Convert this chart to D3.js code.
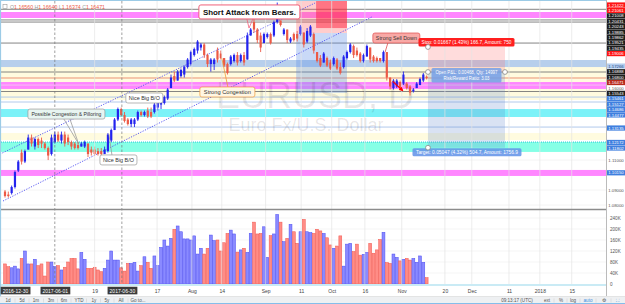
<!doctype html>
<html lang="en">
<head>
<meta charset="utf-8">
<title>EURUSD, D</title>
<style>
  body { margin: 0; background: #fff; }
  svg { display: block; font-family: "Liberation Sans", Arial, sans-serif; }
</style>
</head>
<body>
<svg id="chart" width="625" height="304"></svg>
<script src="https://d3js.org/d3.v7.min.js"></script>
<script>
// daily bars, [open, high, low, close]
var bars = [
  [1.089,1.090,1.085,1.086],[1.087,1.089,1.085,1.086],[1.088,1.093,1.087,1.092],[1.092,1.103,1.091,1.102],
  [1.103,1.110,1.102,1.109],[1.115,1.117,1.107,1.109],[1.109,1.117,1.108,1.116],[1.117,1.127,1.117,1.125],
  [1.125,1.127,1.119,1.121],[1.119,1.125,1.117,1.124],[1.124,1.125,1.118,1.120],[1.123,1.125,1.118,1.121],
  [1.121,1.122,1.117,1.118],[1.118,1.119,1.110,1.113],[1.114,1.127,1.113,1.125],[1.122,1.129,1.121,1.127],
  [1.127,1.129,1.122,1.123],[1.123,1.129,1.121,1.127],[1.127,1.129,1.119,1.121],[1.125,1.127,1.120,1.122],
  [1.122,1.123,1.117,1.119],[1.121,1.122,1.117,1.118],[1.120,1.122,1.117,1.118],[1.119,1.122,1.119,1.121],
  [1.119,1.123,1.118,1.122],[1.121,1.121,1.112,1.114],[1.117,1.119,1.113,1.115],[1.117,1.119,1.113,1.114],
  [1.116,1.118,1.113,1.114],[1.116,1.118,1.113,1.114],[1.114,1.119,1.114,1.117],[1.116,1.128,1.115,1.127],
  [1.123,1.131,1.122,1.130],[1.130,1.138,1.130,1.137],[1.137,1.145,1.136,1.144],[1.144,1.145,1.139,1.140],
  [1.140,1.142,1.135,1.136],[1.137,1.138,1.133,1.134],[1.134,1.138,1.132,1.137],[1.134,1.138,1.132,1.137],
  [1.137,1.143,1.136,1.142],[1.142,1.143,1.139,1.140],[1.140,1.143,1.139,1.142],[1.143,1.145,1.138,1.139],
  [1.142,1.145,1.138,1.139],[1.142,1.148,1.141,1.147],[1.145,1.150,1.143,1.149],[1.147,1.150,1.144,1.149],
  [1.148,1.153,1.147,1.152],[1.151,1.158,1.150,1.157],[1.158,1.167,1.158,1.165],[1.166,1.169,1.162,1.163],
  [1.163,1.170,1.163,1.169],[1.166,1.171,1.165,1.170],[1.167,1.173,1.165,1.172],[1.172,1.178,1.171,1.177],
  [1.174,1.183,1.173,1.182],[1.180,1.185,1.179,1.184],[1.183,1.190,1.181,1.189],[1.185,1.188,1.183,1.187],
  [1.187,1.188,1.178,1.180],[1.180,1.181,1.172,1.174],[1.174,1.178,1.169,1.177],[1.174,1.178,1.170,1.177],
  [1.183,1.185,1.175,1.177],[1.181,1.183,1.177,1.178],[1.178,1.178,1.172,1.173],[1.174,1.175,1.167,1.168],
  [1.174,1.180,1.173,1.179],[1.176,1.181,1.175,1.180],[1.180,1.182,1.173,1.175],[1.176,1.181,1.175,1.180],
  [1.180,1.182,1.173,1.175],[1.177,1.195,1.177,1.193],[1.193,1.198,1.193,1.197],[1.202,1.205,1.195,1.197],
  [1.197,1.198,1.188,1.190],[1.193,1.195,1.182,1.185],[1.188,1.195,1.188,1.194],[1.192,1.195,1.191,1.194],
  [1.194,1.195,1.187,1.188],[1.193,1.203,1.192,1.202],[1.202,1.215,1.201,1.213],[1.203,1.203,1.199,1.200],
  [1.194,1.198,1.193,1.197],[1.197,1.197,1.188,1.190],[1.189,1.192,1.188,1.191],[1.194,1.195,1.189,1.190],
  [1.194,1.196,1.189,1.191],[1.194,1.200,1.193,1.199],[1.195,1.195,1.185,1.187],[1.189,1.198,1.188,1.196],
  [1.193,1.200,1.192,1.199],[1.194,1.195,1.181,1.183],[1.182,1.182,1.175,1.176],[1.178,1.180,1.172,1.173],
  [1.175,1.182,1.175,1.181],[1.178,1.179,1.172,1.173],[1.175,1.177,1.170,1.171],[1.174,1.179,1.173,1.178],
  [1.177,1.178,1.170,1.171],[1.172,1.175,1.167,1.168],[1.172,1.180,1.171,1.179],[1.178,1.183,1.177,1.182],
  [1.182,1.188,1.181,1.187],[1.186,1.187,1.178,1.180],[1.183,1.185,1.179,1.180],[1.181,1.182,1.175,1.176],
  [1.176,1.181,1.175,1.180],[1.179,1.187,1.179,1.186],[1.185,1.185,1.175,1.177],[1.179,1.180,1.175,1.176],
  [1.178,1.179,1.175,1.176],[1.178,1.178,1.175,1.176],[1.176,1.183,1.175,1.182],[1.182,1.182,1.163,1.165],
  [1.165,1.165,1.157,1.159],[1.158,1.164,1.157,1.163],[1.159,1.164,1.158,1.163],[1.162,1.163,1.157,1.158],
  [1.161,1.169,1.160,1.167],[1.161,1.162,1.157,1.158],[1.159,1.160,1.153,1.155],[1.156,1.158,1.155,1.157],
  [1.158,1.162,1.158,1.161],[1.160,1.165,1.160,1.164],[1.163,1.168,1.162,1.167],[1.1656,1.1664,1.16374,1.16471]
]

// volume in thousands
var volumes = [
  73,63,59,65,55,93,120,73,73,90, 67,73,29,80,80,63,67,51,61,80,
  93,93,55,115,90,57,57,61,51,45, 57,87,120,87,87,59,47,75,75,79,
  47,67,99,79,57,102,67,133,160,138, 166,199,211,190,164,164,160,175,109,130,
  109,130,178,158,160,120,150,184,196,182, 116,124,130,115,184,225,182,184,208,97,
  176,182,253,225,154,166,217,190,148,190, 235,190,187,184,199,193,184,168,142,130,
  138,175,65,145,148,118,145,105,108,115, 148,112,124,162,188,78,75,109,97,84,
  90,93,87,93,79,102,79,23
]

var tickLabels = ["2016-12-30","2017-06-01","19","2017-06-30","17","Aug","14","Sep","11","Oct","16","Nov","20","Dec","11","2018","15"]
var tickIndex = [3,15,27,35.2,45.8,56.3,65.3,78.5,89.2,98.4,108.4,119.5,132.5,140.6,151.8,161.1,170.7]
var boxedTicks = ["2016-12-30","2017-06-01","2017-06-30"]
var dashedTicks = ["2017-06-01","2017-06-30"]

var volTicks = [0,40,80,120,160,200,240]

// price scale labels, kind of label for each
var axisLabels = [1.21422,1.21061,1.21008,1.20431,1.20243,1.19885,1.19862,1.19521,1.19435,1.19006,
  1.17266,1.16888,1.16800,1.16471,1.16000,1.15543,1.15461,1.15127,1.14686,1.14477,
  1.13135,1.12172,1.11802,1.11000,1.10150,1.09000,1.08000]
var axisKinds = ["red","red","dark","dark","dark","dark","dark","dark","dark","red",
  "pale","dark","dark","last","plain","dark","blue","blue","blue","blue",
  "blue","blue","blue","plain","blue","plain","plain"]

// drawn levels
var magentaBands = [[1.2087,1.2047],[1.1620,1.1574],[1.1034,1.0994]]
var cyanBands = [[1.1440,1.1387]]
var aquaBands = [[1.1220,1.1154]]
var paleBlueBands = [[1.1767,1.1720]]
var yellowBands = [[1.1720,1.1500],[1.1280,1.1234]]
var greyLevels = [1.2105,1.2034,1.2020,1.1880,1.1687,1.1557]
var blueLevels = [1.1520,1.1487,1.1320]
var dottedLevels = [1.1220]
var lastClose = 1.16471
var priceGrid = [1.16,1.11,1.09,1.08]

var channelUpper = [[-1.5,1.114],[93.4,1.2147]]
var channelLower = [[-0.6,1.0827],[110.5,1.2054]]

// short positions: [startIndex, endIndex, entry, stop, target]
var shortPositions = [[87.7,103,1.1947,1.2167,1.1547],[127.4,150.6,1.1687,1.18537,1.11823]]
var stopHit = [93.7,103,1.1980,1.2167]

var W = 625, H = 304, plotL = 1, plotR = 606
var svg = d3.select("#chart")

var x = d3.scaleLinear().domain([0,181]).range([5, 5 + 3.32*181])
var y = d3.scaleLinear().domain([1.0767,1.2167]).range([210,0])
var yv = d3.scaleLinear().domain([0,240]).range([284,218])

svg.append("rect").attr("width",W).attr("height",H).attr("fill","#fff")

var defs = svg.append("defs")
defs.append("clipPath").attr("id","pclip").append("rect")
  .attr("x",plotL).attr("y",1).attr("width",plotR-plotL).attr("height",208)
defs.append("clipPath").attr("id","vclip").append("rect")
  .attr("x",plotL).attr("y",211).attr("width",plotR-plotL).attr("height",73)
defs.append("marker").attr("id","arr").attr("viewBox","0 0 10 10").attr("refX",8).attr("refY",5)
  .attr("markerWidth",4).attr("markerHeight",4).attr("orient","auto")
  .append("path").attr("d","M0,0L10,5L0,10z").attr("fill","#f00")

var pane = svg.append("g").attr("clip-path","url(#pclip)")
var vpane = svg.append("g").attr("clip-path","url(#vclip)")

function bands(list, color) {
  pane.append("g").selectAll("rect").data(list).join("rect")
    .attr("x",plotL).attr("width",plotR-plotL)
    .attr("y",function(d){ return y(d[0]) }).attr("height",function(d){ return y(d[1]) - y(d[0]) })
    .attr("fill",color)
}
bands(yellowBands,"#fffbdf")
bands(paleBlueBands,"#b7cfec")
bands(magentaBands,"#ff86ff")
bands(cyanBands,"#7cf2f8")
bands(aquaBands,"#86ffe6")

// grid
pane.append("g").selectAll("line").data(priceGrid).join("line")
  .attr("x1",plotL).attr("x2",plotR).attr("y1",function(d){ return y(d) }).attr("y2",function(d){ return y(d) })
  .attr("stroke","#ececec").attr("stroke-width",0.6)
svg.append("g").selectAll("line").data(tickIndex.filter(function(d,k){ return dashedTicks.indexOf(tickLabels[k]) < 0 && k > 0 }))
  .join("line").attr("x1",function(d){ return x(d) }).attr("x2",function(d){ return x(d) })
  .attr("y1",1).attr("y2",284).attr("stroke","#e4e4e4").attr("stroke-width",0.7)
svg.append("g").selectAll("line").data(tickIndex.filter(function(d,k){ return dashedTicks.indexOf(tickLabels[k]) >= 0 }))
  .join("line").attr("x1",function(d){ return x(d) }).attr("x2",function(d){ return x(d) })
  .attr("y1",1).attr("y2",284).attr("stroke","#777").attr("stroke-width",0.7).attr("stroke-dasharray","2.5,2")

function levels(list, color, w, dash) {
  pane.append("g").selectAll("line").data(list).join("line")
    .attr("x1",plotL).attr("x2",plotR).attr("y1",function(d){ return y(d) }).attr("y2",function(d){ return y(d) })
    .attr("stroke",color).attr("stroke-width",w).attr("stroke-dasharray",dash || null)
}
levels(greyLevels,"#777",0.9)
levels(blueLevels,"#a9c4ea",0.9)
levels(dottedLevels,"#27c9d6",1,"1,1")
levels([lastClose],"#e7785c",0.8)

// short position tools
var tools = pane.append("g")
shortPositions.forEach(function(t, k) {
  tools.append("rect").attr("x",x(t[0])).attr("width",x(t[1])-x(t[0]))
    .attr("y",y(t[3])).attr("height",y(t[2])-y(t[3]))
    .attr("fill", k ? "rgba(255,110,110,0.24)" : "rgba(255,90,90,0.3)")
  tools.append("rect").attr("x",x(t[0])).attr("width",x(t[1])-x(t[0]))
    .attr("y",y(t[2])).attr("height",y(t[4])-y(t[2]))
    .attr("fill", k ? "rgba(95,135,205,0.24)" : "rgba(90,140,230,0.33)")
})
tools.append("rect").attr("x",x(stopHit[0])).attr("width",x(stopHit[1])-x(stopHit[0]))
  .attr("y",y(stopHit[3])).attr("height",y(stopHit[2])-y(stopHit[3]))
  .attr("fill","rgba(255,30,60,0.5)")

// watermark
pane.append("text").attr("x",315).attr("y",108).attr("text-anchor","middle")
  .attr("font-size",36).attr("fill","#000").attr("fill-opacity",0.09).text("EURUSD, D")
pane.append("text").attr("x",306).attr("y",131).attr("text-anchor","middle")
  .attr("font-size",18).attr("fill","#000").attr("fill-opacity",0.1).text("Euro Fx/U.S. Dollar")

// channel
var line = d3.line().x(function(d){ return x(d[0]) }).y(function(d){ return y(d[1]) })
pane.append("path").attr("d",line(channelUpper)).attr("fill","none")
  .attr("stroke","#4b4bf0").attr("stroke-width",0.9).attr("stroke-dasharray","1.2,1.4")
pane.append("path").attr("d",line(channelLower)).attr("fill","none")
  .attr("stroke","#4b4bf0").attr("stroke-width",0.9).attr("stroke-dasharray","1.2,1.4")

// candles
var upC = "#2323ee", dnC = "#ec5a46"
var cg = pane.append("g").selectAll("g").data(bars).join("g")
cg.append("line")
  .attr("x1",function(d,i){ return x(i) }).attr("x2",function(d,i){ return x(i) })
  .attr("y1",function(d){ return y(d[1]) }).attr("y2",function(d){ return y(d[2]) })
  .attr("stroke",function(d){ return d[3] >= d[0] ? upC : dnC }).attr("stroke-width",0.9)
cg.append("rect")
  .attr("x",function(d,i){ return x(i) - 1.1 }).attr("width",2.2)
  .attr("y",function(d){ return y(Math.max(d[0],d[3])) })
  .attr("height",function(d){ return Math.max(0.8, Math.abs(y(d[0]) - y(d[3]))) })
  .attr("fill",function(d){ return d[3] >= d[0] ? upC : dnC })

// volume
var volG = vpane.append("g")
volG.selectAll("line").data(volTicks.slice(1)).join("line")
  .attr("x1",plotL).attr("x2",plotR).attr("y1",function(d){ return yv(d) }).attr("y2",function(d){ return yv(d) })
  .attr("stroke","#eeeeee").attr("stroke-width",0.6)
vpane.append("g").selectAll("rect").data(volumes).join("rect")
  .attr("x",function(d,i){ return x(i) - 1.45 }).attr("width",2.9)
  .attr("y",function(d){ return yv(d) }).attr("height",function(d){ return yv(0) - yv(d) })
  .attr("fill",function(d,i){ return bars[i][3] >= bars[i][0] ? "#8a8aff" : "#ff8c86" })
  .attr("stroke",function(d,i){ return bars[i][3] >= bars[i][0] ? "#4d4df2" : "#f2574e" })
  .attr("stroke-width",0.5)

// annotations
var ann = svg.append("g")
function callout(i, p, w, h, txt, o) {
  var bx = x(i), by = y(p)
  var g = ann.append("g")
  if (o.tail) o.tail.forEach(function(t) {
    g.append("line").attr("x1",bx + t[0]).attr("y1",by + t[1]).attr("x2",x(t[2])).attr("y2",y(t[3]))
      .attr("stroke",o.stroke).attr("stroke-width",0.8)
  })
  g.append("rect").attr("x",bx).attr("y",by).attr("width",w).attr("height",h).attr("rx",2)
    .attr("fill",o.fill).attr("stroke",o.stroke).attr("stroke-width",o.sw || 0.7)
  g.append("text").attr("x",bx + w/2).attr("y",by + h/2 + o.fs*0.36).attr("text-anchor","middle")
    .attr("font-size",o.fs).attr("font-weight",o.bold ? "bold" : null).attr("fill",o.color || "#333")
    .attr("textLength",o.tl).attr("lengthAdjust","spacingAndGlyphs").text(txt)
}
callout(58.4,1.2134,101,14,"Short Attack from Bears.",
  {fill:"#fff",stroke:"#f0607a",sw:1,fs:8,bold:true,color:"#111",tl:93,tail:[[48,14,73.5,1.1980],[54,14,73.5,1.1980]]})
callout(110.8,1.1947,47,10,"Strong Sell Down",
  {fill:"#f8a9a6",stroke:"#e04a4a",fs:5.6,tl:41,tail:[[15,10,114.5,1.1820]]})
callout(58.7,1.1587,55,10,"Strong Congestion",
  {fill:"#fff6e3",stroke:"#f09a38",fs:5.6,tl:47,tail:[[28,0,65.3,1.1780]]})
callout(6.9,1.1440,77,10,"Possible Congestion & Pilloring",
  {fill:"#e8f5f1",stroke:"#9a9a9a",fs:5.4,tl:70,tail:[[36,10,22.2,1.1207],[42,10,22.2,1.1207]]})
callout(36.4,1.1547,37,10,"Nice Big B/O",
  {fill:"#fff",stroke:"#9a9a9a",fs:5.4,tl:31})
callout(28.6,1.1134,37,10,"Nice Big B/O",
  {fill:"#fff",stroke:"#9a9a9a",fs:5.4,tl:31,tail:[[12,0,31.3,1.1273]]})

ann.append("line").attr("x1",x(116.8)).attr("y1",y(1.1625)).attr("x2",x(119.8)).attr("y2",y(1.1562))
  .attr("stroke","#f00").attr("stroke-width",1.1).attr("marker-end","url(#arr)")

// labels of the second short position
var sp = shortPositions[1], cx = (x(sp[0]) + x(sp[1])) / 2
ann.append("rect").attr("x",cx-48).attr("y",y(sp[3])-9).attr("width",96).attr("height",8.6).attr("rx",1.5).attr("fill","#ff1f1f")
ann.append("text").attr("x",cx).attr("y",y(sp[3])-2.8).attr("text-anchor","middle").attr("font-size",5.2)
  .attr("fill","#fff").attr("textLength",90).attr("lengthAdjust","spacingAndGlyphs")
  .text("Stop: 0.01667 (1.43%) 166.7, Amount: 750")
ann.append("rect").attr("x",cx-35).attr("y",y(sp[2])-4).attr("width",70).attr("height",14.5).attr("rx",1.5).attr("fill","rgba(118,160,232,0.85)")
ann.append("text").attr("x",cx).attr("y",y(sp[2])+1.6).attr("text-anchor","middle").attr("font-size",4.8)
  .attr("fill","#fff").attr("textLength",62).attr("lengthAdjust","spacingAndGlyphs").text("Open P&L: 0.00468, Qty: 14997")
ann.append("text").attr("x",cx).attr("y",y(sp[2])+7.8).attr("text-anchor","middle").attr("font-size",4.8)
  .attr("fill","#fff").attr("textLength",46).attr("lengthAdjust","spacingAndGlyphs").text("Risk/Reward Ratio: 3.03")
ann.append("rect").attr("x",cx-54).attr("y",y(sp[4])+0.5).attr("width",109).attr("height",8).attr("rx",1.5).attr("fill","rgba(100,148,232,0.88)")
ann.append("text").attr("x",cx+0.5).attr("y",y(sp[4])+6.3).attr("text-anchor","middle").attr("font-size",5)
  .attr("fill","#fff").attr("textLength",102).attr("lengthAdjust","spacingAndGlyphs")
  .text("Target: 0.05047 (4.32%) 504.7, Amount: 1756.9")
var handles = [[sp[0],sp[3]],[sp[0],sp[2]],[sp[1],sp[2]],[sp[0],sp[4]]]
ann.selectAll("circle").data(handles).join("circle")
  .attr("cx",function(d){ return x(d[0]) }).attr("cy",function(d){ return y(d[1]) }).attr("r",2.4)
  .attr("fill","#fff").attr("stroke","#888").attr("stroke-width",0.8)

// legend
svg.append("rect").attr("x",3).attr("y",4.5).attr("width",4).attr("height",4).attr("fill","none").attr("stroke","#999").attr("stroke-width",0.6)
var leg = svg.append("text").attr("x",10).attr("y",9).attr("font-size",5.4)
  .attr("textLength",95).attr("lengthAdjust","spacingAndGlyphs")
var legParts = [["O","#999"],["1.16560","#ee5a46"],[" H","#999"],["1.16640","#ee5a46"],[" L","#999"],["1.16374","#ee5a46"],[" C","#999"],["1.16471","#ee5a46"]]
legParts.forEach(function(p){ leg.append("tspan").attr("fill",p[1]).text(p[0]) })

// pane separators and frame
svg.append("line").attr("x1",0).attr("x2",W).attr("y1",209.5).attr("y2",209.5).attr("stroke","#8c8c8c").attr("stroke-width",1.6)
svg.append("line").attr("x1",plotL).attr("x2",plotR).attr("y1",285).attr("y2",285).attr("stroke","#b9e4f2").attr("stroke-width",1.6)
svg.append("rect").attr("x",plotR).attr("y",0).attr("width",W-plotR).attr("height",296).attr("fill","#fff")
svg.append("line").attr("x1",plotR+0.5).attr("x2",plotR+0.5).attr("y1",0).attr("y2",296).attr("stroke","#aaa").attr("stroke-width",0.8)
svg.append("line").attr("x1",0.5).attr("x2",0.5).attr("y1",0).attr("y2",297).attr("stroke","#9ccbe6").attr("stroke-width",1.2)
svg.append("line").attr("x1",0).attr("x2",plotR).attr("y1",0.5).attr("y2",0.5).attr("stroke","#9ccbe6").attr("stroke-width",1)

// price labels, stacked so they do not overlap
var kindStyle = {
  red:["#ff1414","#fff"], dark:["#1e1e1e","#fff"], blue:["#3f7fdf","#fff"],
  pale:["#b4cdee","#2a4f8a"], last:["#b82a1c","#fff"], plain:[null,"#555"]
}
var prev = -10
var plabels = axisLabels.map(function(v,k){
  var yy = Math.max(y(v), prev + 5.4, 5)
  prev = yy
  return {v:v, k:axisKinds[k], yy:yy}
})
var pl = svg.append("g").selectAll("g").data(plabels).join("g")
pl.filter(function(d){ return kindStyle[d.k][0] }).append("rect")
  .attr("x",plotR+1).attr("width",18).attr("y",function(d){ return d.yy - 2.6 }).attr("height",5.2)
  .attr("fill",function(d){ return kindStyle[d.k][0] })
pl.append("text").attr("x",plotR+10).attr("y",function(d){ return d.yy + 1.6 }).attr("text-anchor","middle")
  .attr("font-size",4.4).attr("textLength",15.5).attr("lengthAdjust","spacingAndGlyphs")
  .attr("fill",function(d){ return kindStyle[d.k][1] }).text(function(d){ return d.v.toFixed(5) })

// volume axis
var va = svg.append("g").attr("transform","translate(" + (plotR+1) + ",0)")
  .call(d3.axisRight(yv).tickValues(volTicks).tickSize(0).tickPadding(3)
    .tickFormat(function(d){ return d === 0 ? "0" : d + "K" }))
va.select(".domain").remove()
va.attr("font-family",null).selectAll("text").attr("font-size",4.6).attr("fill","#555")

// time axis
var ta = svg.append("g").attr("transform","translate(0,289)")
  .call(d3.axisBottom(x).tickValues(tickIndex).tickSize(0).tickPadding(0)
    .tickFormat(function(d,k){ return tickLabels[k] }))
ta.select(".domain").remove()
ta.attr("font-family",null).selectAll("text").attr("font-size",5).attr("fill","#444")
ta.selectAll(".tick").each(function(d,k){
  if (boxedTicks.indexOf(tickLabels[k]) < 0) return
  var t = d3.select(this).select("text").attr("fill","#fff")
  var b = t.node().getBBox()
  d3.select(this).insert("rect","text").attr("x",b.x-2).attr("y",b.y-0.8).attr("width",b.width+4).attr("height",b.height+1.6)
    .attr("fill","#3c3c3c")
})

// toolbar
var tb = svg.append("g")
tb.append("rect").attr("x",0).attr("y",296.5).attr("width",W).attr("height",7.5).attr("fill","#eef0f2")
tb.append("line").attr("x1",0).attr("x2",W).attr("y1",296.5).attr("y2",296.5).attr("stroke","#d6d6d6").attr("stroke-width",0.6)
tb.append("line").attr("x1",0).attr("x2",W).attr("y1",303.6).attr("y2",303.6).attr("stroke","#5aa8e6").attr("stroke-width",0.8)
var leftBtns = [["1d",8],["5d",22],["1m",36],["3m",51],["6m",64],["YTD",79],["1y",94],["5y",107],["All",121],["Go to...",138]]
var rightBtns = [["09:13:17 (UTC)",517,"#555"],["ext",547,"#555"],["%",561,"#555"],["log",573,"#555"],["auto",588,"#3a8ee0"],["\u2699",604,"#555"],["\u26F6",617.5,"#3a8ee0"]]
tb.selectAll("text.l").data(leftBtns).join("text").attr("class","l")
  .attr("x",function(d){ return d[1] }).attr("y",302).attr("text-anchor","middle").attr("font-size",4.6).attr("fill","#555")
  .text(function(d){ return d[0] })
tb.selectAll("text.r").data(rightBtns).join("text").attr("class","r")
  .attr("x",function(d){ return d[1] }).attr("y",302).attr("text-anchor","middle").attr("font-size",4.6)
  .attr("fill",function(d){ return d[2] }).text(function(d){ return d[0] })
var seps = [15,29,43.5,57.5,71,86.5,100.5,114,128,531,554,567,580,596,611]
tb.selectAll("line.s").data(seps).join("line").attr("class","s")
  .attr("x1",function(d){ return d }).attr("x2",function(d){ return d }).attr("y1",298.5).attr("y2",302.5)
  .attr("stroke","#ccc").attr("stroke-width",0.5)
</script>
</body>
</html>
